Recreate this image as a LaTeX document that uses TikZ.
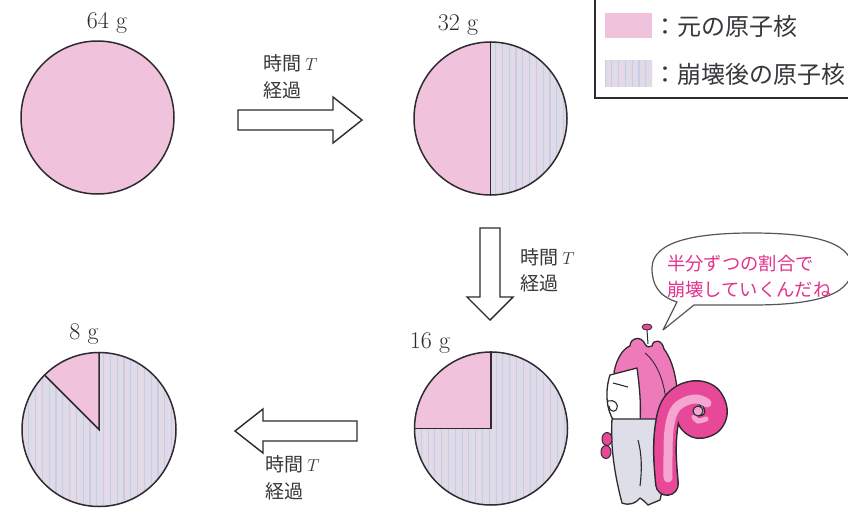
\documentclass[tikz,border=0pt]{standalone}
\usepackage{fontspec}
\newfontfamily\jpfont{Noto Sans CJK JP}
\usetikzlibrary{calc}

\definecolor{inkline}{RGB}{45,42,48}
\definecolor{labelgrey}{RGB}{55,55,60}
\definecolor{pinkfill}{RGB}{240,194,220}
\definecolor{greyfill}{RGB}{221,219,232}
\definecolor{stripeA}{RGB}{200,205,230}
\definecolor{stripeB}{RGB}{238,214,228}
\definecolor{hairpink}{RGB}{238,122,186}
\definecolor{tailmag}{RGB}{232,72,152}
\definecolor{taillight}{RGB}{245,165,208}
\definecolor{pantsgrey}{RGB}{222,222,232}
\definecolor{talkpink}{RGB}{226,50,140}

% grey striped disc: centre x, centre y, radius
\newcommand\stripeddisc[3]{%
  \fill[greyfill] (#1,#2) circle (#3);
  \begin{scope}
    \clip (#1,#2) circle (#3);
    \foreach \k in {0,...,46}{%
      \pgfmathsetmacro\xx{#1-#3+\k*3.4}%
      \ifodd\k
        \draw[stripeB, line width=1.1pt] (\xx,#2-#3) -- (\xx,#2+#3);
      \else
        \draw[stripeA, line width=1.1pt] (\xx,#2-#3) -- (\xx,#2+#3);
      \fi}
  \end{scope}}

% centre line of the squirrel's tail
\newcommand\tailcurve{plot[smooth, tension=0.6] coordinates {(667,-484) (665,-456) (666,-430) (671,-408) (682,-396) (697,-392) (710,-397) (716,-411) (711,-423) (698,-427) (689,-420) (690,-410)}}

\begin{document}
\begin{tikzpicture}[x=1pt,y=1pt,
  disc/.style={circle, draw=inkline, line width=1.5pt, minimum size=153pt, inner sep=0pt},
  mass/.style={font=\fontsize{24}{24}\selectfont, text=inkline, inner sep=0pt},
  steplabel/.style={font=\jpfont\fontsize{19}{19}\selectfont, text=labelgrey, anchor=west, inner sep=0pt},
  keytext/.style={font=\jpfont\fontsize{24}{24}\selectfont, text=labelgrey, anchor=west, inner sep=0pt},
  talk/.style={font=\jpfont\fontsize{18.3}{18.3}\selectfont, text=talkpink, anchor=west, inner sep=0pt},
  hollow/.style={draw=inkline, line width=1.4pt, fill=white, line join=miter},
  charline/.style={draw=inkline, line width=1.3pt, line join=round},
  swatch/.style={minimum width=47pt, minimum height=25pt, inner sep=0pt}
]
\useasboundingbox (0,0) rectangle (848,-509);
\fill[white] (0,0) rectangle (848,-509);

% ---- key box ----
\draw[inkline, line width=1.6pt] (595,5) -- (595,-98) -- (856,-98);
\node[swatch, fill=pinkfill] (keyA) at (628.5,-25) {};
\fill[greyfill] (605,-60) rectangle (652,-87);
\begin{scope}
  \clip (605,-60) rectangle (652,-87);
  \foreach \k in {0,...,14}{%
    \pgfmathsetmacro\xx{605+\k*3.4}%
    \ifodd\k \draw[stripeB, line width=1.1pt] (\xx,-60) -- (\xx,-87);
    \else \draw[stripeA, line width=1.1pt] (\xx,-60) -- (\xx,-87); \fi}
\end{scope}
\node[swatch] (keyB) at (628.5,-73.5) {};
\node[keytext] (keyAtext) at (653,-26) {：元の原子核};
\node[keytext] (keyBtext) at (653,-74) {：崩壊後の原子核};

% ---- 64 g ----
\fill[pinkfill] (97.5,-117.5) circle (76.5);
\node[disc] (c1) at (97.5,-117.5) {};
\node[mass] (m1) at (107,-23) {64 g};

% ---- 32 g ----
\stripeddisc{490.5}{-118.5}{76.5}
\fill[pinkfill] (490.5,-118.5) -- ++(0,76.5) arc[start angle=90, end angle=270, radius=76.5] -- cycle;
\node[disc] (c2) at (490.5,-118.5) {};
\draw[inkline, line width=1.5pt] (c2.north) -- (c2.south);
\node[mass] (m2) at (458,-25) {32 g};

% ---- 16 g ----
\stripeddisc{491}{-428.5}{76.5}
\fill[pinkfill] (491,-428.5) -- ++(0,76.5) arc[start angle=90, end angle=180, radius=76.5] -- cycle;
\node[disc] (c3) at (491,-428.5) {};
\draw[inkline, line width=1.5pt, line join=miter] (c3.north) -- (c3.center) -- (c3.west);
\node[mass] (m3) at (430,-343) {16 g};

% ---- 8 g ----
\stripeddisc{99}{-429.5}{77}
\fill[pinkfill] (99,-429.5) -- ++(0,77) arc[start angle=90, end angle=135, radius=77] -- cycle;
\node[disc, minimum size=154pt] (c4) at (99,-429.5) {};
\draw[inkline, line width=1.5pt, line join=miter] (c4.north) -- (c4.center) -- (c4.135);
\node[mass] (m4) at (84,-334) {8 g};

% ---- hollow arrows ----
\draw[hollow] (238,-110) -- (333,-110) -- (333,-97) -- (362,-120) -- (333,-143) -- (333,-130) -- (238,-130) -- cycle;
\draw[hollow] (480,-228) -- (500,-228) -- (500,-297) -- (513,-297) -- (490,-320) -- (467,-297) -- (480,-297) -- cycle;
\draw[hollow] (357,-421) -- (263,-421) -- (263,-409) -- (235,-431) -- (263,-453) -- (263,-441) -- (357,-441) -- cycle;

\node[steplabel] (t1a) at (263,-63) {時間 $T$};
\node[steplabel] (t1b) at (263,-90) {経過};
\node[steplabel] (t2a) at (520,-257) {時間 $T$};
\node[steplabel] (t2b) at (520,-283) {経過};
\node[steplabel] (t3a) at (265,-464) {時間 $T$};
\node[steplabel] (t3b) at (265,-491) {経過};

% ---- speech bubble ----
\draw[draw=inkline!80, line width=1.2pt, fill=white, line join=round]
  (652,-268) .. controls (652,-240) and (700,-233) .. (752,-233)
  .. controls (806,-233) and (852,-240) .. (852,-268)
  .. controls (852,-298) and (806,-305) .. (752,-305)
  -- (694,-305) -- (663,-330) -- (677,-302)
  .. controls (658,-296) and (652,-284) .. (652,-268) -- cycle;
\node[talk] (say1) at (667,-264) {半分ずつの割合で};
\node[talk] (say2) at (667,-290) {崩壊していくんだね};

% ---- squirrel ----
% antenna
\draw[inkline, line width=1pt] (647,-330) -- (648,-344);
\draw[inkline, line width=0.8pt, fill=tailmag] (647,-327) ellipse (5 and 3);
% head and back
\draw[charline, fill=hairpink] (614,-372) .. controls (617,-357) and (624,-348) .. (630,-346)
  .. controls (630,-338) and (641,-335) .. (645,-344)
  .. controls (647,-348) and (650,-347) .. (652,-346)
  .. controls (653,-339) and (662,-339) .. (664,-349)
  .. controls (674,-362) and (680,-388) .. (677,-421) -- (640,-421) -- cycle;
\draw[inkline, line width=0.9pt] (645,-353) .. controls (660,-365) and (667,-390) .. (667,-418);
% face
\draw[charline, fill=white] (610,-375) -- (637,-368)
  .. controls (640,-390) and (641,-405) .. (640,-422) -- (614,-421)
  .. controls (606,-410) and (605,-390) .. (610,-375) -- cycle;
\draw[inkline, line width=1.1pt] (613,-383) -- (628,-387);
\draw[inkline, line width=1.1pt] (608,-401) .. controls (614,-399) and (620,-404) .. (616,-410)
  .. controls (613,-413) and (609,-410) .. (609,-406);
% trousers
\draw[charline, fill=pantsgrey] (612,-419) -- (663,-419)
  .. controls (667,-450) and (665,-480) .. (660,-500) -- (648,-505)
  .. controls (644,-501) and (642,-499) .. (640,-498)
  .. controls (636,-503) and (630,-506) .. (622,-503)
  .. controls (616,-480) and (610,-450) .. (612,-419) -- cycle;
\draw[inkline, line width=1.1pt] (638,-440) .. controls (642,-455) and (642,-470) .. (640,-486);
% hands
\draw[inkline, line width=1pt, fill=tailmag] (607,-439) ellipse (5 and 6.5);
\draw[inkline, line width=1pt, fill=tailmag] (606,-452) ellipse (5 and 6.5);
% tail
\draw[inkline, line width=24pt, line cap=round, line join=round] \tailcurve;
\draw[tailmag, line width=21pt, line cap=round, line join=round] \tailcurve;
\draw[taillight, line width=9pt, line cap=round]
  plot[smooth, tension=0.6] coordinates {(668,-478) (668,-456) (669,-430) (674,-411) (684,-402) (697,-399) (707,-403)};
\draw[taillight, line width=5pt, line cap=round]
  plot[smooth, tension=0.6] coordinates {(706,-419) (698,-421) (694,-417)};
\draw[inkline, line width=1.1pt, fill=taillight] (698,-411) circle (5);
\end{tikzpicture}
\end{document}
